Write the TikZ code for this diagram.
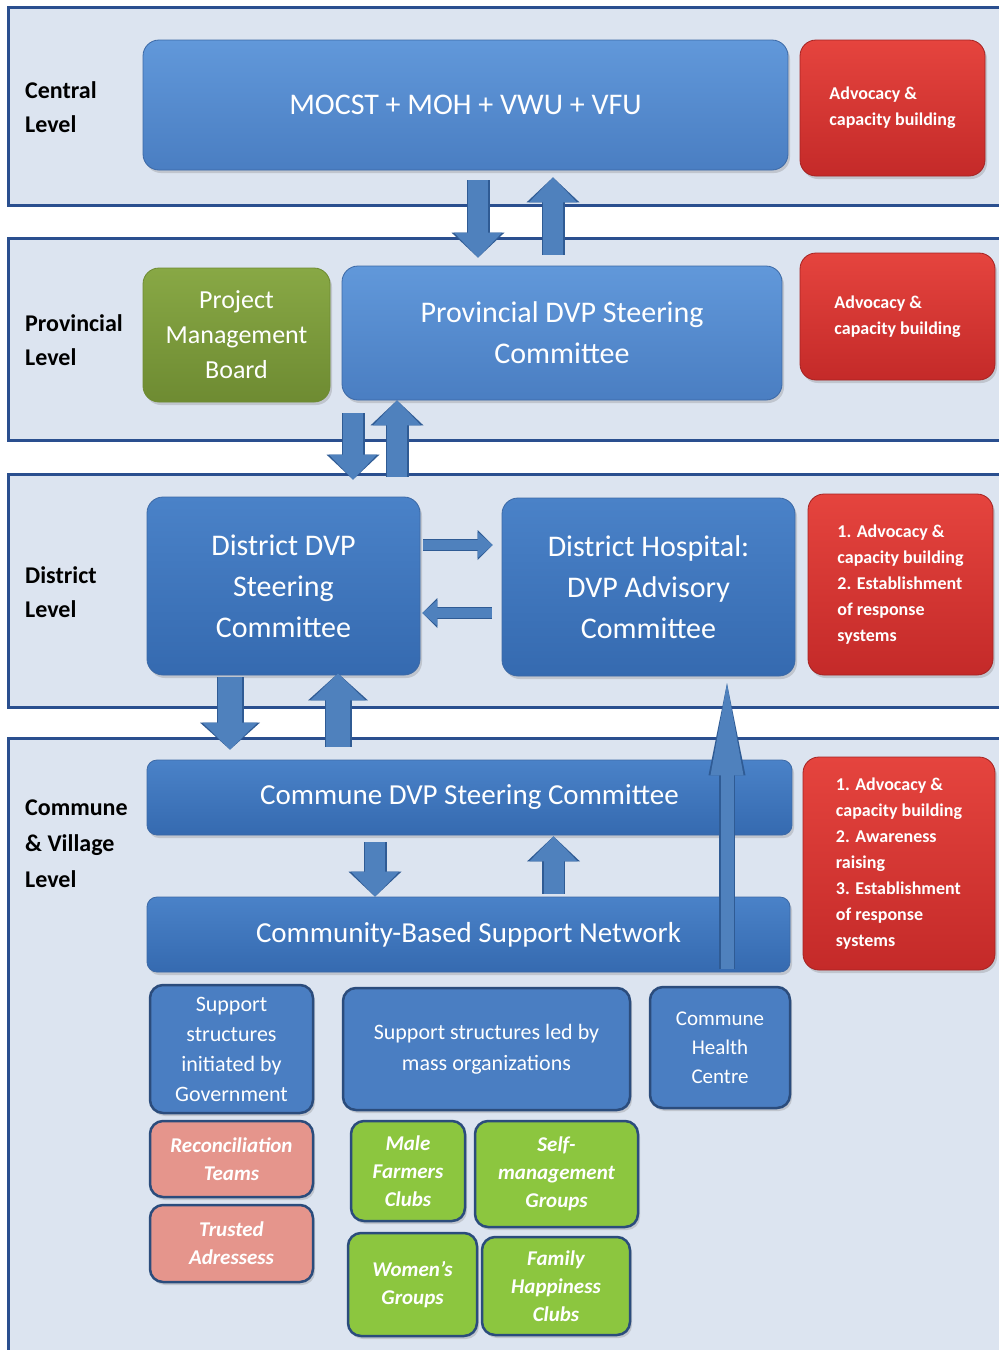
\documentclass[tikz,border=0pt]{standalone}
\usepackage{fontspec}
\setmainfont{Carlito}
\usepackage{tikz}
\usetikzlibrary{arrows.meta,shadows}
\definecolor{quadro}{HTML}{DCE4F0}
\definecolor{quadrolinha}{HTML}{2A4F8F}
\definecolor{azulcl}{HTML}{6198DA}
\definecolor{azulesc}{HTML}{4A7EC2}
\definecolor{azulmd}{HTML}{4A82C8}
\definecolor{azulfd}{HTML}{356AB0}
\definecolor{azulborda}{HTML}{3C69A6}
\definecolor{marinho}{HTML}{2B4C7C}
\definecolor{vermcl}{HTML}{E5443E}
\definecolor{vermesc}{HTML}{C42A29}
\definecolor{vermborda}{HTML}{A52322}
\definecolor{olivacl}{HTML}{88A845}
\definecolor{olivaesc}{HTML}{6E8B32}
\definecolor{rosa}{HTML}{E5958C}
\definecolor{verdecl}{HTML}{8CC63F}
\definecolor{setacor}{HTML}{4F81BD}
\definecolor{setalinha}{HTML}{2F5B94}

\begin{document}
\begin{tikzpicture}[x=1pt, y=-1pt,
  nivel/.style={draw=quadrolinha, fill=quadro, line width=3pt},
  rotulo/.style={anchor=west, align=left, inner sep=0pt, font=\bfseries\fontsize{24}{34}\selectfont},
  caixa/.style={rounded corners=16pt, line width=0.8pt, text=white, align=center, inner sep=0pt,
    drop shadow={shadow xshift=2pt, shadow yshift=-3pt, opacity=0.3}},
  azul/.style={caixa, draw=azulborda, top color=azulcl, bottom color=azulesc},
  azulforte/.style={caixa, draw=azulborda, top color=azulmd, bottom color=azulfd},
  vermelha/.style={caixa, draw=vermborda, top color=vermcl, bottom color=vermesc, align=left,
    font=\bfseries\fontsize{18}{26}\selectfont},
  oliva/.style={caixa, draw=olivaesc, top color=olivacl, bottom color=olivaesc,
    font=\fontsize{26}{35}\selectfont},
  baixa/.style={caixa, rounded corners=13pt, line width=2.5pt, draw=marinho},
  baixaazul/.style={baixa, fill=azulesc},
  baixarosa/.style={baixa, fill=rosa, font=\bfseries\itshape\fontsize{21}{28}\selectfont},
  baixaverde/.style={baixa, fill=verdecl, font=\bfseries\itshape\fontsize{21}{28}\selectfont},
  grande/.style={font=\fontsize{30}{41}\selectfont},
  barra/.style={font=\fontsize{29}{36}\selectfont},
  seta/.style n args={5}{line width=#1, draw=setacor,
    -{Triangle[length=#3, width=#2, line width=0pt]},
    preaction={draw=setalinha, line width=#4,
      -{Triangle[length=#3, width=#5, line width=0pt]}}},
  setagrande/.style={seta={24pt}{55pt}{27pt}{27pt}{60pt}},
  setamedia/.style={seta={20pt}{48pt}{25pt}{23pt}{53pt}},
  setaestreita/.style={seta={10pt}{26pt}{15pt}{12.5pt}{30pt}},
  setalonga/.style={seta={13pt}{33pt}{92pt}{15.5pt}{37pt}}
]
\useasboundingbox (0,0) rectangle (999,1350);

% niveis
\draw[nivel] (8,7) rectangle (1010,205);
\draw[nivel] (8,238) rectangle (1010,440);
\draw[nivel] (8,474) rectangle (1010,707);
\draw[nivel] (8,738) rectangle (1010,1370);

\node[rotulo] (lcentral) at (25,107) {Central\\Level};
\node[rotulo] (lprov) at (25,340) {Provincial\\Level};
\node[rotulo] (ldist) at (25,592) {District\\Level};
\node[rotulo, font=\bfseries\fontsize{24}{36}\selectfont] (lcom) at (25,844) {Commune\\\& Village\\Level};

% nivel central
\node[azul, grande, minimum width=645pt, minimum height=130pt] (mocst) at (465.5,105) {MOCST + MOH + VWU + VFU};
\node[vermelha, minimum width=185pt, minimum height=136pt] (adv1) at (892.5,108) {Advocacy \&\\capacity building};

% nivel provincial
\node[oliva, minimum width=187pt, minimum height=134pt] (pmb) at (236.5,335) {Project\\Management\\Board};
\node[azul, grande, minimum width=440pt, minimum height=134pt] (prov) at (562,333) {Provincial DVP Steering\\Committee};
\node[vermelha, minimum width=195pt, minimum height=127pt] (adv2) at (897.5,316.5) {Advocacy \&\\capacity building};

% nivel distrital
\node[azulforte, grande, minimum width=273pt, minimum height=178pt] (ddvp) at (283.5,586) {District DVP\\Steering\\Committee};
\node[azulforte, grande, minimum width=293pt, minimum height=178pt] (dhosp) at (648.5,587) {District Hospital:\\DVP Advisory\\Committee};
\node[vermelha, minimum width=185pt, minimum height=181pt] (adv3) at (900.5,584.5) {1. Advocacy \&\\capacity building\\2. Establishment\\of response\\systems};

% nivel comuna
\node[azulforte, barra, rounded corners=10pt, minimum width=645pt, minimum height=75pt] (cdvp) at (469.5,797.5) {Commune DVP Steering Committee};
\node[azulforte, barra, rounded corners=10pt, minimum width=643pt, minimum height=75pt] (cbsn) at (468.5,934.5) {Community-Based Support Network};
\node[vermelha, minimum width=192pt, minimum height=213pt] (adv4) at (899,863.5) {1. Advocacy \&\\capacity building\\2. Awareness\\raising\\3. Establishment\\of response\\systems};

\node[baixaazul, font=\fontsize{22}{30}\selectfont, minimum width=163pt, minimum height=128pt] (sgov) at (231.5,1049) {Support\\structures\\initiated by\\Government};
\node[baixaazul, font=\fontsize{22}{31}\selectfont, minimum width=287pt, minimum height=122pt] (smass) at (486.5,1049) {Support structures led by\\mass organizations};
\node[baixaazul, font=\fontsize{21}{29}\selectfont, minimum width=140pt, minimum height=121pt] (chc) at (720,1047.5) {Commune\\Health\\Centre};
\node[baixarosa, minimum width=163pt, minimum height=76pt] (recon) at (231.5,1159) {Reconciliation\\Teams};
\node[baixarosa, minimum width=163pt, minimum height=77pt] (trust) at (231.5,1243.5) {Trusted\\Adressess};
\node[baixaverde, minimum width=114pt, minimum height=100pt] (male) at (408,1171) {Male\\Farmers\\Clubs};
\node[baixaverde, minimum width=163pt, minimum height=106pt] (selfm) at (556.5,1174) {Self-\\management\\Groups};
\node[baixaverde, minimum width=129pt, minimum height=103pt] (women) at (412.5,1284.5) {Women's\\Groups};
\node[baixaverde, minimum width=148pt, minimum height=98pt] (family) at (556,1286) {Family\\Happiness\\Clubs};

% colunas e linhas das setas
\coordinate (cA) at (478,0);
\coordinate (cB) at (553,0);
\coordinate (cC) at (353,0);
\coordinate (cD) at (397,0);
\coordinate (cE) at (230,0);
\coordinate (cF) at (338,0);
\coordinate (cG) at (375,0);
\coordinate (cH) at (553.5,0);
\coordinate (cI) at (727,0);
\coordinate (rA) at (0,545);
\coordinate (rB) at (0,613);

\draw[setamedia, shorten <=10pt, shorten >=8pt] (mocst.south -| cA) -- (prov.north -| cA);
\draw[setamedia, shorten <=11pt, shorten >=7pt] (prov.north -| cB) -- (mocst.south -| cB);
\draw[setamedia, shorten <=13pt, shorten >=17pt] (prov.south -| cC) -- (ddvp.north -| cC);
\draw[setamedia, shorten <=20pt] (ddvp.north -| cD) -- (prov.south -| cD);
\draw[setaestreita, shorten <=3pt, shorten >=9pt] (ddvp.east |- rA) -- (dhosp.west |- rA);
\draw[setaestreita, shorten <=10pt, shorten >=2pt] (dhosp.west |- rB) -- (ddvp.east |- rB);
\draw[setagrande, shorten <=2pt, shorten >=10pt] (ddvp.south -| cE) -- (cdvp.north -| cE);
\draw[setagrande, shorten <=13pt, shorten >=-2pt] (cdvp.north -| cF) -- (ddvp.south -| cF);
\draw[setamedia, shorten <=7pt, shorten >=0pt] (cdvp.south -| cG) -- (cbsn.north -| cG);
\draw[setamedia, shorten <=3pt, shorten >=1pt] (cbsn.north -| cH) -- (cdvp.south -| cH);
\draw[setalonga, shorten <=3pt, shorten >=7pt] (cbsn.south -| cI) -- (dhosp.south -| cI);
\end{tikzpicture}
\end{document}
